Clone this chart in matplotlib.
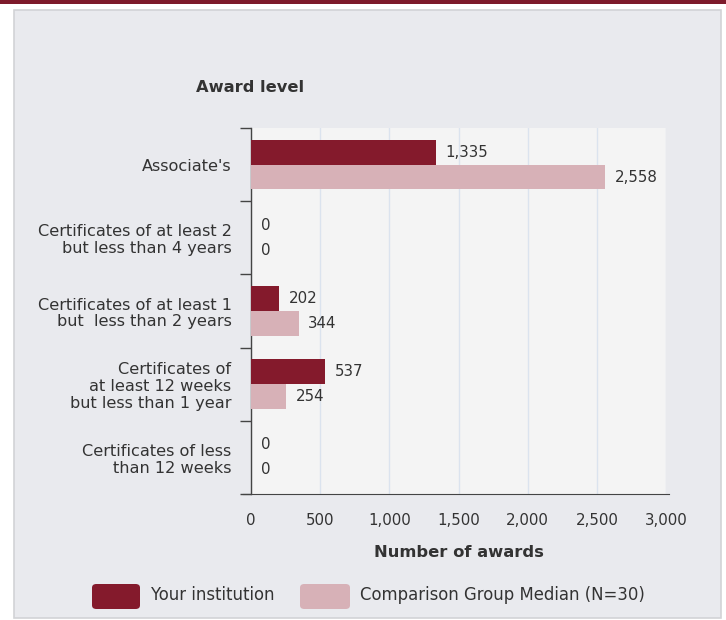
import matplotlib
matplotlib.use("Agg")
import matplotlib.pyplot as plt
from matplotlib.patches import FancyBboxPatch, Rectangle
import numpy as np

plt.rcParams['font.family'] = ['DejaVu Sans']

# data
categories = ["Associate's",
              "Certificates of at least 2\nbut less than 4 years",
              "Certificates of at least 1\nbut  less than 2 years",
              "Certificates of\nat least 12 weeks\nbut less than 1 year",
              "Certificates of less\nthan 12 weeks"]
your_inst = [1335, 0, 202, 537, 0]
comparison = [2558, 0, 344, 254, 0]
series_names = ["Your institution", "Comparison Group Median (N=30)"]
xticks = [0, 500, 1000, 1500, 2000, 2500, 3000]

dark = "#841a2c"
light = "#d7b1b7"
panel_bg = "#e9eaee"
plot_bg = "#f4f4f4"
text_c = "#333333"

W, H = 726, 620
fig = plt.figure(figsize=(W / 100, H / 100), dpi=100)
fig.patch.set_facecolor("white")

# top band and gray panel
fig.patches.append(Rectangle((0, 1 - 4 / H), 1, 4 / H, transform=fig.transFigure,
                             facecolor="#7d1a2b", edgecolor="none", zorder=-2))
fig.patches.append(Rectangle((14 / W, 1 - 618 / H), 707 / W, 608 / H, transform=fig.transFigure,
                             facecolor=panel_bg, edgecolor="#d2d3d6", linewidth=1.2, zorder=-2))

ax = fig.add_axes([251 / W, 1 - 494 / H, 415 / W, 366 / H])
ax.set_facecolor(plot_bg)

y = np.arange(len(categories))
h = 0.34
ax.barh(y - h / 2, your_inst, height=h, color=dark, zorder=3)
ax.barh(y + h / 2, comparison, height=h, color=light, zorder=3)

for yi, v in zip(y, your_inst):
    ax.text(v + 70, yi - h / 2, f"{v:,}", va="center", ha="left", fontsize=10.8, color=text_c)
for yi, v in zip(y, comparison):
    ax.text(v + 70, yi + h / 2, f"{v:,}", va="center", ha="left", fontsize=10.8, color=text_c)

ax.set_ylim(len(categories) - 0.5, -0.5)
ax.set_xlim(0, 3000)
ax.set_xticks(xticks)
ax.set_xticklabels([f"{t:,}" for t in xticks], fontsize=10.8, color=text_c)
ax.set_yticks(y)
ax.set_yticklabels(categories, fontsize=11.6, color=text_c, linespacing=1.15)
ax.tick_params(axis="y", length=0, pad=14)
ax.tick_params(axis="x", length=0, pad=14)
# boundary ticks on y axis
ax.set_yticks(np.arange(-0.5, len(categories)), minor=True)
ax.tick_params(axis="y", which="minor", length=8, color="#444444", width=1)

ax.grid(axis="x", color="#dbe3ee", linewidth=1, zorder=0)
for s in ["top", "right"]:
    ax.spines[s].set_visible(False)
ax.spines["left"].set_color("#444444")
ax.spines["bottom"].set_color("#444444")
ax.spines["bottom"].set_bounds(-60, 3020)
ax.spines["left"].set_linewidth(1)

ax.set_xlabel("Number of awards", fontsize=11.8, color=text_c, labelpad=12, fontweight="bold")
fig.text(250 / W, 1 - 88 / H, "Award level", ha="center", va="center", fontsize=11.7,
         color=text_c, fontweight="bold")

# legend
for x0, w0, col, name, tx in [(92, 48, dark, series_names[0], 151), (300, 50, light, series_names[1], 360)]:
    fig.patches.append(FancyBboxPatch((x0 / W, 1 - 609 / H), w0 / W, 25 / H,
                                      boxstyle="round,pad=0,rounding_size=0.006",
                                      transform=fig.transFigure, facecolor=col, edgecolor="none"))
    fig.text(tx / W, 1 - 595 / H, name, ha="left", va="center", fontsize=11.9, color=text_c)

fig.savefig("out.png", dpi=100, facecolor=fig.get_facecolor())
